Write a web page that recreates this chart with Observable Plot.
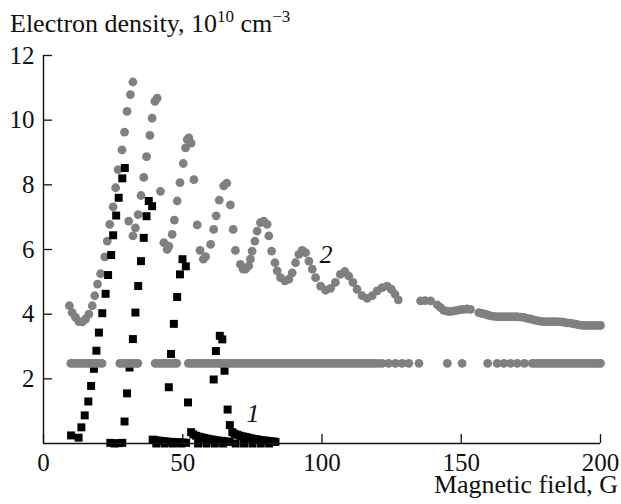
<!DOCTYPE html>
<html>
<head>
<meta charset="utf-8">
<script src="https://cdn.jsdelivr.net/npm/d3@7"></script>
<script src="https://cdn.jsdelivr.net/npm/@observablehq/plot@0.6"></script>
<style>
  body { margin: 0; background: #fff; }
  #chart svg { font-family: "Liberation Serif", "Times New Roman", serif; }
</style>
</head>
<body>
<div id="chart"></div>
<script>
// ---- Series 1: black squares ----
const s1Field = [9.9, 12.6, 13.6, 14.8, 16.1, 17.1, 18.1, 19.0, 19.9, 21.1, 22.3, 23.2, 24.3, 25.0, 26.1, 27.0, 28.3, 29.2,
  24.0, 25.5, 27.0, 28.3,
  29.1, 30.0, 30.9, 32.1, 33.0, 34.0, 35.0, 36.0, 37.0, 37.8, 39.0,
  39.2, 40.2, 41.2, 42.2, 43.2, 44.2, 45.2, 46.2, 47.2, 48.2, 49.2, 50.2, 51.2,
  45.0, 45.8, 46.8, 48.0, 49.0, 49.9, 51.1, 51.9, 53.0,
  53.8, 54.8, 55.8, 56.8, 57.8, 58.8, 59.8, 60.8, 61.8, 62.8, 63.8, 64.8, 65.8, 66.8,
  61.1, 61.9, 63.3, 64.2, 65.0, 66.1, 66.9, 67.8,
  68.6, 69.6, 70.6, 71.6, 72.6, 73.6, 74.6, 75.6, 76.6, 77.6, 78.6, 79.6, 80.6, 81.6, 82.6, 83.3,
  40.5, 43.5, 46.5, 49.5, 55.5, 58.5, 61.5, 64.5, 69.0, 72.0, 75.0, 78.0, 81.0];
const s1Density = [0.25, 0.18, 0.50, 0.87, 1.30, 1.78, 2.31, 2.87, 3.43, 4.03, 4.63, 5.21, 5.83, 6.44, 7.05, 7.60, 8.20, 8.52,
  0.02, 0.00, 0.01, 0.02,
  0.68, 1.55, 2.35, 3.23, 4.05, 4.87, 5.64, 6.36, 7.03, 7.50, 7.34,
  0.12, 0.10, 0.09, 0.08, 0.07, 0.06, 0.05, 0.05, 0.04, 0.04, 0.03, 0.03, 0.02,
  1.74, 2.77, 3.70, 4.53, 5.23, 5.70, 5.48, 1.27, 0.35,
  0.28, 0.24, 0.21, 0.19, 0.17, 0.15, 0.13, 0.12, 0.10, 0.09, 0.08, 0.07, 0.06, 0.05,
  1.98, 2.86, 3.33, 3.22, 2.25, 1.05, 0.57, 0.35,
  0.30, 0.27, 0.24, 0.22, 0.20, 0.18, 0.16, 0.14, 0.13, 0.11, 0.10, 0.09, 0.08, 0.07, 0.06, 0.05,
  0.0, 0.0, 0.0, 0.0, 0.0, 0.0, 0.0, 0.0, 0.0, 0.0, 0.0, 0.0, 0.0];

// ---- Series 2: grey circles, upper curve ----
const s2Field = [9.3, 10.3, 11.5, 12.7, 13.9, 15.1, 16.3, 17.5, 18.4, 19.4, 20.5, 22.0, 22.9, 23.8, 25.0, 25.9, 26.8, 28.2, 29.1, 30.0, 31.2, 32.1,
  30.6, 32.1, 33.0, 34.0, 35.0, 36.0, 37.0, 38.2, 39.0, 40.0, 40.8,
  42.0, 43.2, 44.4, 45.0, 46.2, 47.0, 48.0, 49.0, 50.2, 51.0, 51.6, 52.2, 53.0, 54.0, 55.2, 56.2, 57.4, 58.2,
  60.0, 61.1, 62.0, 63.1, 64.7, 65.8, 67.1, 68.1, 68.9, 70.7, 71.7, 72.5,
  73.7, 74.3, 74.9, 75.9, 76.7, 77.9, 79.1, 80.3, 80.9, 81.9, 83.1, 83.9, 85.1, 86.7, 88.1, 89.3, 90.5, 91.7, 92.9,
  94.1, 95.3, 96.5, 97.7, 99.5, 101.3, 103.1, 104.8, 106.6, 108.2, 109.6, 111.1, 112.6, 114.4, 116.2, 118.0, 119.8,
  121.6, 123.4, 124.9, 126.2, 127.4,
  135.4, 137.0, 139.0, 141.4, 142.6, 143.7, 145.0, 146.1, 147.3, 148.5, 149.7, 150.9, 152.1, 153.3,
  156.3, 157.5, 158.7, 159.6, 160.5, 161.7, 162.9, 164.1, 165.3, 166.5, 167.7, 168.9, 170.1, 171.3, 172.5, 173.7,
  174.9, 176.1, 177.3, 178.5, 179.6, 180.8, 182.0, 183.2, 184.4, 185.6, 186.8, 188.0, 189.2, 190.4, 191.6, 192.8,
  194.0, 195.2, 196.4, 197.6, 198.8, 200.0];
const s2Density = [4.26, 4.05, 3.90, 3.77, 3.76, 3.85, 4.00, 4.26, 4.57, 4.93, 5.25, 5.77, 6.26, 6.78, 7.32, 7.91, 8.47, 9.08, 9.63, 10.27, 10.79, 11.18,
  6.88, 6.42, 6.67, 7.08, 7.67, 8.23, 8.87, 9.53, 10.06, 10.58, 10.68,
  7.80, 6.21, 6.00, 6.10, 6.47, 6.91, 7.50, 8.07, 8.66, 9.14, 9.40, 9.45, 9.29, 8.16, 6.76, 5.97, 5.70, 5.78,
  6.16, 6.62, 7.04, 7.53, 7.97, 8.05, 7.38, 6.62, 5.97, 5.54, 5.39, 5.39,
  5.49, 5.70, 5.95, 6.26, 6.57, 6.83, 6.88, 6.78, 6.42, 5.95, 5.59, 5.34, 5.13, 5.03, 5.08, 5.28, 5.59, 5.85, 5.97,
  5.90, 5.64, 5.39, 5.13, 4.87, 4.74, 4.80, 4.98, 5.23, 5.32, 5.18, 4.98, 4.77, 4.57, 4.49, 4.57, 4.72,
  4.82, 4.87, 4.77, 4.62, 4.44,
  4.41, 4.42, 4.41, 4.29, 4.20, 4.12, 4.09, 4.08, 4.10, 4.12, 4.14, 4.15, 4.16, 4.15,
  4.05, 4.02, 4.00, 3.97, 3.95, 3.93, 3.92, 3.92, 3.92, 3.92, 3.92, 3.92, 3.92, 3.91, 3.90, 3.87,
  3.85, 3.82, 3.80, 3.78, 3.77, 3.77, 3.77, 3.77, 3.77, 3.76, 3.75, 3.73, 3.72, 3.70, 3.68, 3.66,
  3.65, 3.65, 3.65, 3.65, 3.65, 3.65];

// ---- Series 3: grey circles, constant level ----
const s3Field = [9.8, 10.8, 11.8, 12.8, 13.8, 14.8, 15.8, 16.8, 17.8, 18.8, 19.8, 21.0,
  27.4, 28.4, 29.4, 30.4, 31.4, 32.4, 33.4, 33.9,
  40.1, 41.1, 42.1, 43.1, 44.1, 45.1, 46.1, 47.1, 47.8,
  52, 53, 54, 55, 56, 57, 58, 59, 60, 61, 62, 63, 64, 65, 66, 67, 68, 69, 70, 71, 72, 73, 74, 75, 76, 77, 78, 79,
  80, 81, 82, 83, 84, 85, 86, 87, 88, 89, 90, 91, 92, 93, 94, 95, 96, 97, 98, 99, 100, 101, 102, 103, 104, 105,
  106, 107, 108, 109, 110, 111, 112, 113, 114, 115, 116, 117, 118, 119, 120.3,
  121.6, 123.9, 126.4, 128.8, 131.2, 134.8,
  145.0, 150.3,
  159.5, 162.9, 165.3, 167.7, 170.1, 172.7,
  175.5, 176.5, 177.5, 178.5, 179.5, 180.5, 181.5, 182.5, 183.5, 184.5, 185.5, 186.5, 187.5, 188.5, 189.5,
  190.5, 191.5, 192.5, 193.5, 194.5, 195.5, 196.5, 197.5, 198.5, 199.5, 200.0];
const s3Level = 2.48;

// ---- Axes & labels ----
const xTicks = [0, 50, 100, 150, 200];
const yTicks = [2, 4, 6, 8, 10, 12];
const seriesLabelText = ["1", "2"];
const seriesLabelField = [75.2, 101.4];
const seriesLabelDensity = [0.91, 5.83];

const s1 = s1Field.map((f, i) => ({field: f, density: s1Density[i]}));
const s2 = s2Field.map((f, i) => ({field: f, density: s2Density[i]}));
const s3 = s3Field.map(f => ({field: f, density: s3Level}));
const labels = seriesLabelText.map((t, i) => ({text: t, field: seriesLabelField[i], density: seriesLabelDensity[i]}));

const grey = "#808080";

const plot = Plot.plot({
  width: 621,
  height: 504,
  marginLeft: 43,
  marginRight: 21,
  marginTop: 55,
  marginBottom: 61,
  style: {fontFamily: "Liberation Serif, Times New Roman, serif", fontSize: "25px", background: "#fff", color: "#111", overflow: "visible"},
  x: {domain: [0, 200], label: null},
  y: {domain: [0, 12], label: null},
  marks: [
    Plot.dot(s2, {x: "field", y: "density", r: 4.4, fill: grey, stroke: "none"}),
    Plot.dot(s1, {x: "field", y: "density", r: 4.5, symbol: "square", fill: "#000", stroke: "none"}),
    Plot.dot(s3, {x: "field", y: "density", r: 4.4, fill: grey, stroke: "none"}),
    Plot.text(labels, {x: "field", y: "density", text: "text", fontStyle: "italic", fontSize: 26, fill: "#111"}),
    Plot.ruleY([0], {stroke: "#111", strokeWidth: 1.4}),
    Plot.ruleX([0], {stroke: "#111", strokeWidth: 1.4}),
    Plot.axisX({ticks: xTicks, tickSize: -9, tickPadding: 19, tickFormat: d => String(d), label: null, stroke: "#111", strokeWidth: 1.3, fontSize: 25}),
    Plot.axisY({ticks: yTicks, tickSize: -9, tickPadding: 18, tickFormat: d => String(d), label: null, stroke: "#111", strokeWidth: 1.3, fontSize: 25})
  ]
});

const svg = d3.select(plot);
const title = svg.append("text")
  .attr("x", 10).attr("y", 31.5)
  .attr("text-anchor", "start")
  .attr("font-size", 26).attr("fill", "#111")
  .style("font-family", "Liberation Serif, Times New Roman, serif");
title.append("tspan").text("Electron density, 10");
title.append("tspan").attr("font-size", 17).attr("dy", -10).text("10");
title.append("tspan").attr("font-size", 26).attr("dy", 10).text(" cm");
title.append("tspan").attr("font-size", 17).attr("dy", -10).text("\u22123");

svg.append("text")
  .attr("x", 618).attr("y", 493)
  .attr("text-anchor", "end")
  .attr("font-size", 26).attr("fill", "#111")
  .style("font-family", "Liberation Serif, Times New Roman, serif")
  .text("Magnetic field, G");

document.getElementById("chart").appendChild(plot);
</script>
</body>
</html>
